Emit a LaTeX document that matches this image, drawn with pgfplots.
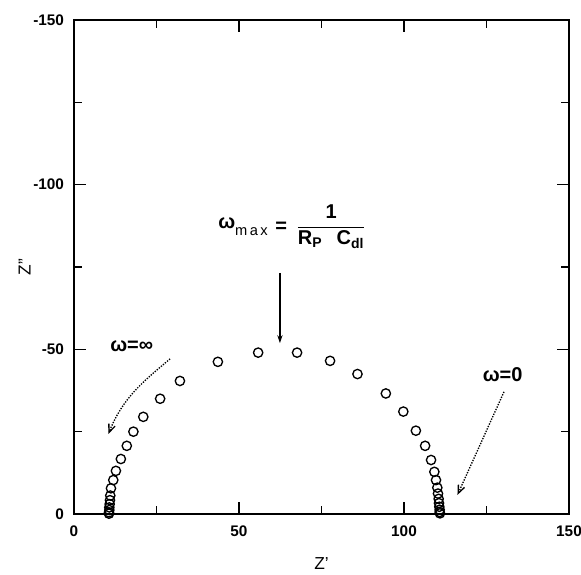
\documentclass[border=0pt]{standalone}
\usepackage{fontspec}
\setmainfont{Liberation Sans}
\usepackage{amsmath}
\usepackage{pgfplots}
\pgfplotsset{compat=1.18}
\usetikzlibrary{arrows.meta}

\begin{document}
\begin{tikzpicture}
\begin{axis}[name=ax,
    scale only axis, width=371.25pt, height=370.5pt,
    xmin=0, xmax=150, ymin=-150, ymax=0, y dir=reverse,
    xtick={0,50,100,150}, xticklabels={0,50,100,150},
    ytick={-150,-100,-50,0}, yticklabels={-150,-100,-50,0},
    minor xtick={25,75,125}, minor ytick={-125,-75,-25},
    tick align=inside, major tick length=9pt, minor tick length=6pt,
    tick style={black, line width=1pt},
    axis line style={line width=1.1pt},
    ticklabel style={font=\bfseries\fontsize{11.5}{13}\selectfont},
    xticklabel style={yshift=-5pt},
    yticklabel style={xshift=-4pt},
    xlabel={Z'}, ylabel={Z''},
    every axis x label/.style={at={(axis description cs:0.5,0)}, anchor=center, yshift=-37pt, font=\fontsize{13}{15}\selectfont},
    every axis y label/.style={at={(axis description cs:0,0.5)}, anchor=center, xshift=-37pt, rotate=90, font=\fontsize{13}{15}\selectfont},
    clip=false,
]
% impedance data (Z', Z'')
\addplot[only marks, mark=o, mark size=3.5pt, mark options={line width=1pt, black}] coordinates {
    (10.6,-0.1) (10.6,-0.5) (10.7,-1.2) (10.7,-2.0) (10.8,-3.0) (10.9,-4.2) (11.0,-5.6)
    (11.2,-7.8) (11.9,-10.3) (12.7,-13.1) (14.2,-16.7) (16.0,-20.7) (18.0,-25.0)
    (21.0,-29.5) (26.1,-35.0) (32.1,-40.4) (43.6,-46.2) (55.8,-49.0) (67.6,-49.0)
    (77.6,-46.5) (85.9,-42.5) (94.5,-36.6) (99.8,-31.1) (103.6,-25.3) (106.4,-20.7)
    (108.2,-16.4) (109.2,-12.8) (109.7,-10.3) (110.1,-8.0) (110.3,-6.2) (110.5,-4.6)
    (110.6,-3.3) (110.7,-2.2) (110.8,-1.3) (110.8,-0.6) (110.9,-0.2)
};

% omega_max annotation
\node[font=\bfseries\fontsize{15}{17}\selectfont, anchor=east, inner sep=0pt] at (axis cs:58.8,-87.2)
    {ω\raisebox{-5pt}{\mdseries\fontsize{11}{13}\selectfont m\,a\,x}};
\node[font=\bfseries\fontsize{15}{17}\selectfont, inner sep=0pt] at (axis cs:62.8,-87.2) {=};
\node[font=\bfseries\fontsize{15}{17}\selectfont] at (axis cs:77.9,-87.2)
    {$\dfrac{\text{\bfseries 1}}{\text{\bfseries R\textsubscript{P}\;\, C\textsubscript{dl}}}$};
\draw[line width=0.9pt, -{Stealth[length=6pt, width=4pt]}] (axis cs:62.4,-73.2) -- (axis cs:62.4,-51.9);

% omega = infinity
\node[font=\bfseries\fontsize{15}{17}\selectfont] at (axis cs:17.5,-50.8) {ω=∞};
\draw[line width=1pt, densely dotted, -{Straight Barb[length=6pt, width=5pt]}]
    (axis cs:29.1,-47.1) to[out=220, in=68] (axis cs:10.4,-24.3);

% omega = 0
\node[font=\bfseries\fontsize{15}{17}\selectfont] at (axis cs:129.9,-42.4) {ω=0};
\draw[line width=1pt, densely dotted, -{Straight Barb[length=6pt, width=5pt]}]
    (axis cs:130.3,-37.1) -- (axis cs:116.2,-5.8);
\end{axis}
\pgfresetboundingbox
\path ([xshift=-55.5pt, yshift=-45pt]ax.south west) rectangle ([xshift=9pt, yshift=15pt]ax.north east);
\end{tikzpicture}
\end{document}
